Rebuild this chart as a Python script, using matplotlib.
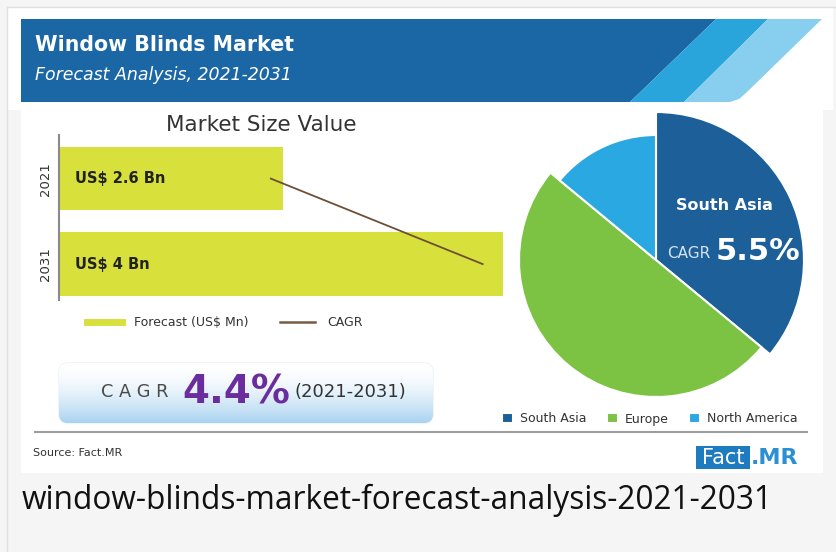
import numpy as np
import matplotlib
matplotlib.use('Agg')
import matplotlib.pyplot as plt
from matplotlib.patches import Polygon, Rectangle, FancyBboxPatch
from matplotlib.lines import Line2D
from matplotlib.colors import LinearSegmentedColormap
from matplotlib.transforms import blended_transform_factory

# data
years = ['2021', '2031']
market_size = [2.6, 4.0]            # US$ Bn
bar_labels = ['US$ 2.6 Bn', 'US$ 4 Bn']
cagr_x = [2.52, 3.87]               # ends of the CAGR trend line
regions = ['South Asia', 'Europe', 'North America']
region_share = [36, 50, 14]
region_colors = ['#1d5f99', '#7cc243', '#2aa8e1']
cagr_total = '4.4%'
cagr_south_asia = '5.5%'

W, H = 836, 552
fig = plt.figure(figsize=(W / 100, H / 100), dpi=100, facecolor='#f5f5f5')


def px_axes(x, y, w, h, z=1):
    a = fig.add_axes([x / W, 1 - (y + h) / H, w / W, h / H], zorder=z)
    a.patch.set_alpha(0)
    return a


# background / decoration layer in pixel coords
bg = px_axes(0, 0, W, H, z=0)
bg.set_autoscale_on(False)
bg.set_xlim(0, W)
bg.set_ylim(H, 0)
bg.axis('off')

bg.add_patch(Rectangle((8, 7), 825, 103, fc='white', ec='none'))
bg.add_patch(Rectangle((21, 19), 802, 454, fc='white', ec='none'))
bg.plot([7, 7], [7, H], color='#e0e0e0', lw=1)
bg.plot([7, W], [7, 7], color='#e0e0e0', lw=1)

# header band
bg.add_patch(Polygon([(21, 19), (716, 19), (630, 102), (21, 102)], fc='#1b67a6', ec='none'))
bg.add_patch(Polygon([(716, 19), (768, 19), (684, 102), (630, 102)], fc='#29a5db', ec='none'))
bg.add_patch(Polygon([(768, 19), (822, 19), (746, 93), (739, 99), (730, 102), (684, 102)],
                     fc='#88cfef', ec='none'))
bg.text(35, 45, 'Window Blinds Market', color='white', fontsize=14.8, weight='bold', va='center')
bg.text(35, 75, 'Forecast Analysis, 2021-2031', color='white', fontsize=12.5,
        style='italic', va='center')

bg.text(261, 125, 'Market Size Value', color='#333333', fontsize=15.5, ha='center', va='center')

# CAGR box with gradient
box = FancyBboxPatch((59, 363), 374, 60, boxstyle='round,pad=0,rounding_size=9',
                     fc='none', ec='#e4eef6', lw=0.8)
bg.add_patch(box)
grad = np.linspace(0, 1, 256)[:, None] ** 1.7
cmap = LinearSegmentedColormap.from_list('cg', ['#ffffff', '#a8d2ef'])
im = bg.imshow(grad, extent=(59, 433, 423, 363), cmap=cmap, aspect='auto', zorder=2)
im.set_clip_path(box)
bg.text(101, 392, 'C A G R', color='#4a4a4a', fontsize=12.8, va='center', zorder=3)
bg.text(182, 392, cagr_total, color='#6b2d9e', fontsize=28, weight='bold', va='center', zorder=3)
bg.text(294, 392, '(2021-2031)', color='#333333', fontsize=13, va='center', zorder=3)

# footer
bg.plot([35, 807], [432, 432], color='#9d9d9d', lw=1.5)
bg.text(33, 453, 'Source: Fact.MR', color='#333333', fontsize=8, va='center')
bg.add_patch(Rectangle((696, 446), 54, 23, fc='#1f7bc0', ec='none'))
bg.text(723, 457.5, 'Fact', color='white', fontsize=15, ha='center', va='center')
bg.text(751, 457.5, '.MR', color='#2b8fd3', fontsize=16, weight='bold', va='center')

bg.text(22, 500, 'window-blinds-market-forecast-analysis-2021-2031', color='#111111',
        fontsize=22.8, family='Open Sans', va='center')

# bar chart
ax = px_axes(59, 135, 456, 165)
ypos = np.arange(len(years))
ax.barh(ypos, market_size, height=0.74, color='#d8e03c', zorder=2)
ax.plot(cagr_x, ypos, color='#6e4f37', lw=1.3, zorder=3)
ax.set_xlim(1.17, 4.076)
ax.set_ylim(1.42, -0.51)
tr = blended_transform_factory(ax.transAxes, ax.transData)
for y, lab in zip(ypos, bar_labels):
    ax.text(0.035, y, lab, transform=tr, fontsize=10.5, weight='bold', color='#222222',
            va='center', zorder=4)
ax.set_yticks(ypos, years, rotation=90, va='center', fontsize=9.5, color='#333333')
ax.tick_params(axis='y', length=0, pad=5)
ax.set_xticks([])
for s in ['top', 'right', 'bottom']:
    ax.spines[s].set_visible(False)
ax.spines['left'].set_color('#8a8a8a')
ax.spines['left'].set_linewidth(1.5)

handles = [Line2D([], [], color='#d8e03c', lw=5), Line2D([], [], color='#7a5a42', lw=1.8)]
ax.legend(handles, ['Forecast (US$ Mn)', 'CAGR'], loc='center left',
          bbox_to_anchor=(87 / W, 1 - 323 / H), bbox_transform=fig.transFigure,
          ncol=2, frameon=False, fontsize=9, handlelength=2.8, handletextpad=1.0,
          columnspacing=2.5, borderpad=0, borderaxespad=0, labelcolor='#333333')

# pie chart (1 data unit = 1 px)
axp = px_axes(496, 100, 320, 320)
wedges, _ = axp.pie(region_share, colors=region_colors, startangle=90, counterclock=False,
                    wedgeprops=dict(edgecolor='white', linewidth=1.5))
for w, r in zip(wedges, [148, 137, 125]):
    w.set_radius(r)
axp.set_xlim(-160, 160)
axp.set_ylim(-160, 160)
axp.set_aspect('equal')
axp.text(68, 55, 'South Asia', color='white', fontsize=11.5, weight='bold', ha='center', va='center')
axp.text(54, 2, 'CAGR', color='#d5e3f0', fontsize=11, ha='right', va='baseline')
axp.text(60, 0, cagr_south_asia, color='white', fontsize=22, weight='bold', ha='left', va='baseline')
axp.legend(wedges, regions, loc='center left', bbox_to_anchor=(502 / W, 1 - 419 / H),
           bbox_transform=fig.transFigure, ncol=3, frameon=False, fontsize=9,
           handlelength=0.9, handleheight=0.9, handletextpad=0.55, columnspacing=1.6,
           borderpad=0, borderaxespad=0, labelcolor='#333333')

fig.savefig('out.png', dpi=100, facecolor=fig.get_facecolor())
